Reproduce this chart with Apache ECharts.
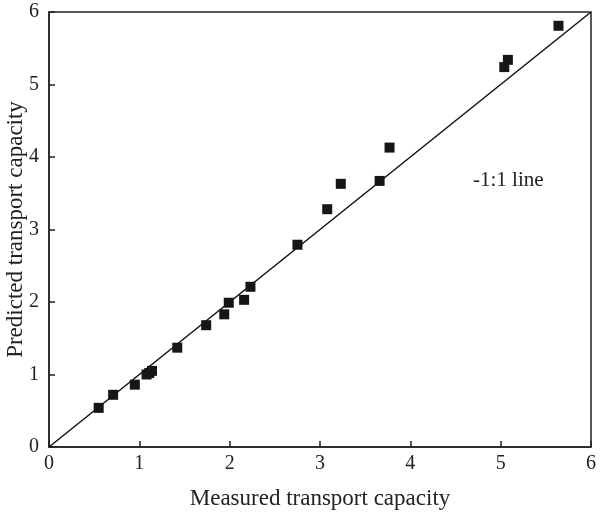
<!DOCTYPE html>
<html>
<head>
<meta charset="utf-8">
<script src="https://cdn.jsdelivr.net/npm/echarts@6/dist/echarts.min.js"></script>
<style>html,body{margin:0;padding:0;background:#fff}#c{width:600px;height:516px}</style>
</head>
<body>
<div id="c"></div>
<script>
const measured  = [0.55, 0.71, 0.95, 1.08, 1.11, 1.14, 1.42, 1.74, 1.94, 1.99, 2.16, 2.23, 2.75, 3.08, 3.23, 3.66, 3.77, 5.04, 5.08, 5.64];
const predicted = [0.54, 0.72, 0.86, 1.00, 1.02, 1.05, 1.37, 1.68, 1.83, 1.99, 2.03, 2.21, 2.79, 3.28, 3.63, 3.67, 4.13, 5.24, 5.34, 5.81];
const lineX = [0, 6];
const lineY = [0, 6];
const xTicks = [0, 1, 2, 3, 4, 5, 6];
const yTicks = [0, 1, 2, 3, 4, 5, 6];
const xName = 'Measured transport capacity';
const yName = 'Predicted transport capacity';
const annotation = '-1:1 line';

const font = '"Liberation Serif", "Times New Roman", serif';
const chart = echarts.init(document.getElementById('c'), null, {renderer: 'canvas'});
chart.setOption({
  animation: false,
  backgroundColor: '#fff',
  grid: {left: 49, top: 12, right: 9, bottom: 69, containLabel: false, outerBoundsMode: 'none',
         show: true, borderColor: '#222', borderWidth: 1.5, backgroundColor: 'transparent'},
  xAxis: {
    type: 'value', min: xTicks[0], max: xTicks[xTicks.length - 1], interval: 1,
    name: xName, nameLocation: 'middle', nameGap: 40, nameMoveOverlap: false,
    nameTextStyle: {fontFamily: font, fontSize: 23, color: '#222'},
    axisLine: {show: true, lineStyle: {color: '#222', width: 1.5}},
    axisTick: {show: true, inside: true, length: 6, lineStyle: {color: '#222', width: 1.5}},
    axisLabel: {fontFamily: font, fontSize: 20, color: '#222', margin: 7},
    splitLine: {show: false}
  },
  yAxis: {
    type: 'value', min: yTicks[0], max: yTicks[yTicks.length - 1], interval: 1,
    name: yName, nameLocation: 'middle', nameGap: 22, nameMoveOverlap: false,
    nameTextStyle: {fontFamily: font, fontSize: 23, color: '#222'},
    axisLine: {show: true, lineStyle: {color: '#222', width: 1.5}},
    axisTick: {show: true, inside: true, length: 6, lineStyle: {color: '#222', width: 1.5}},
    axisLabel: {fontFamily: font, fontSize: 20, color: '#222', margin: 10},
    splitLine: {show: false}
  },
  series: [
    {
      type: 'line', data: lineX.map((x, i) => [x, lineY[i]]),
      showSymbol: false, symbol: 'none',
      lineStyle: {color: '#111', width: 1.5}, silent: true, z: 2
    },
    {
      type: 'scatter', data: measured.map((x, i) => [x, predicted[i]]),
      symbol: 'rect', symbolSize: 10,
      itemStyle: {color: '#161616', opacity: 1}, z: 3
    }
  ],
  graphic: [
    {type: 'text', left: 473, top: 170, style: {text: annotation, font: '21px ' + font, fill: '#222'}}
  ]
});
</script>
</body>
</html>
